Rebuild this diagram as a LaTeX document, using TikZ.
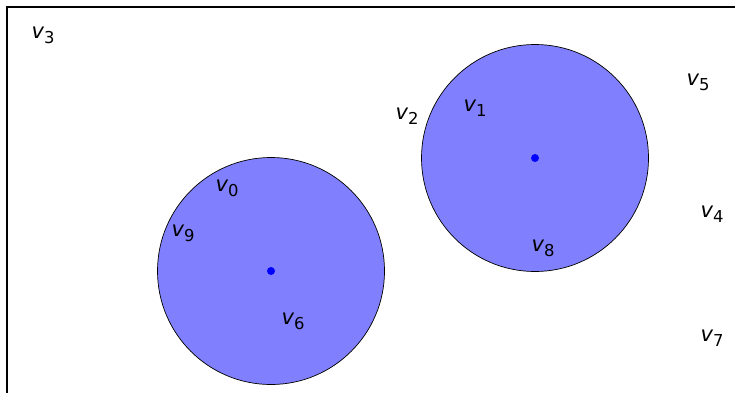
\documentclass[tikz,border=0pt]{standalone}
\usepackage{fontspec}
\setmainfont{DejaVu Sans}

\begin{document}
\begin{tikzpicture}[x=0.03cm, y=-0.03cm,
    disk/.style={draw=black, line width=0.6pt, fill=blue!50},
    vlabel/.style={inner sep=0pt}]
  \useasboundingbox (0,0) rectangle (735,392);
  \draw[line width=1.1pt] (7,7) rectangle (760,420);
  \foreach \n/\x/\y in {a/271/271, b/535/158} {
    \coordinate (c\n) at (\x,\y);
    \filldraw[disk] (c\n) circle (113.5);
    \fill[blue] (c\n) circle (4);
  }
  \foreach \i/\x/\y in {3/43/35, 2/407/116, 1/475/108, 5/698/82, 4/712/214,
                        7/712/338, 0/227/188, 9/183/233, 6/293/321, 8/543/248}
    \node[vlabel] (v\i) at (\x,\y)
      {{\fontsize{18}{20}\selectfont\itshape v}\raisebox{-4.5pt}{\fontsize{14}{16}\selectfont\i}};
\end{tikzpicture}
\end{document}
